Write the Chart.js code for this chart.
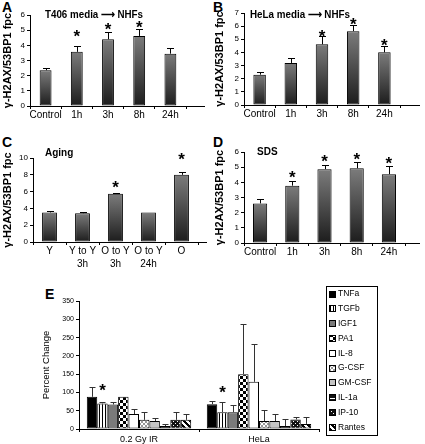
<!DOCTYPE html>
<html>
<head>
<meta charset="utf-8">
<script src="https://cdn.jsdelivr.net/npm/chart.js@4.4.0/dist/chart.umd.min.js"></script>
<style>
  body { margin: 0; background: #fff; width: 425px; height: 444px; position: relative; overflow: hidden; font-family: "Liberation Sans", Arial, sans-serif; }
  canvas { position: absolute; }
  .panel { position: absolute; font-weight: bold; font-size: 14px; line-height: 14px; }
</style>
</head>
<body>
<div class="panel" style="left:2px;top:0px">A</div>
<div class="panel" style="left:213px;top:0px">B</div>
<div class="panel" style="left:2px;top:135px">C</div>
<div class="panel" style="left:213px;top:135px">D</div>
<div class="panel" style="left:45px;top:287px">E</div>

<canvas id="chartA" width="212" height="124" style="left:0;top:0"></canvas>
<canvas id="chartB" width="213" height="124" style="left:212px;top:0"></canvas>
<canvas id="chartC" width="212" height="135" style="left:0;top:140px"></canvas>
<canvas id="chartD" width="213" height="130" style="left:212px;top:140px"></canvas>
<canvas id="chartE" width="425" height="164" style="left:0;top:280px"></canvas>

<script>
const timeLabels = ['Control', '1h', '3h', '8h', '24h'];
const agingLabels = [['Y'], ['Y to Y', '3h'], ['O to Y', '3h'], ['O to Y', '24h'], ['O']];

const t406Values = [2.36, 3.57, 4.4, 4.62, 3.45];
const t406Errors = [2.5, 3.94, 4.88, 5.1, 3.83];
const t406Stars = [null, 4.88, 5.32, 5.43, null];

const helaValues = [2.31, 3.2, 4.62, 5.62, 4.01];
const helaErrors = [2.53, 3.58, 5.23, 6.12, 4.52];
const helaStars = [null, null, 5.56, 6.45, 4.85];

const agingValues = [3.52, 3.43, 5.74, 3.5, 8.0];
const agingErrors = [3.64, 3.54, 5.88, 3.5, 8.33];
const agingStars = [null, null, 7.0, null, 10.3];

const sdsValues = [2.61, 3.78, 4.87, 4.93, 4.54];
const sdsErrors = [2.88, 4.09, 5.11, 5.33, 5.09];
const sdsStars = [null, 4.6, 5.64, 5.77, 5.5];

const yLabel = 'γ-H2AX/53BP1 fpc';

// panel E: one row per cytokine, values for [0.2 Gy IR, HeLa]
const cytoGroups = ['0.2 Gy IR', 'HeLa'];
const cytokines = ['TNFa', 'TGFb', 'IGF1', 'PA1', 'IL-8', 'G-CSF', 'GM-CSF', 'IL-1a', 'IP-10', 'Rantes'];
const cytoValues = [[88, 68], [70, 46], [67, 46], [88, 150], [41, 129], [25, 22], [22, 22], [8, 8], [25, 26], [25, 14]];
const cytoErrors = [[114, 77], [73, 73], [75, 66], [88, 287], [56, 232], [47, 52], [31, 41], [14, 27], [47, 34], [41, 34]];
const cytoStars = [[null, null], [116, 112], [null, null], [null, null], [null, null], [null, null], [null, null], [null, null], [null, null], [null, null]];

const FONT = '"Liberation Sans", Arial, sans-serif';

function barGradient(c) {
  const chart = c.chart;
  const y = chart.scales.y;
  if (!chart.chartArea || !y || c.type !== 'data') return '#444';
  const top = y.getPixelForValue(c.raw);
  const bottom = y.getPixelForValue(0);
  const g = chart.ctx.createLinearGradient(0, top, 0, bottom);
  g.addColorStop(0, '#7c7c7c');
  g.addColorStop(1, '#1c1c1c');
  return g;
}

function makePattern(w, h, draw) {
  const c = document.createElement('canvas');
  c.width = w; c.height = h;
  const p = c.getContext('2d');
  draw(p);
  return p.createPattern(c, 'repeat');
}

const fills = [
  '#000',
  makePattern(3, 1, p => { p.fillStyle = '#fff'; p.fillRect(0, 0, 3, 1); p.fillStyle = '#000'; p.fillRect(0, 0, 1, 1); }),
  '#7a7a7a',
  makePattern(6, 6, p => { p.fillStyle = '#fff'; p.fillRect(0, 0, 6, 6); p.fillStyle = '#000'; p.fillRect(0, 0, 3, 3); p.fillRect(3, 3, 3, 3); }),
  '#fff',
  makePattern(4, 4, p => {
    p.fillStyle = '#fff'; p.fillRect(0, 0, 4, 4); p.fillStyle = '#999';
    for (let i = 0; i < 4; i++) { p.fillRect(i, i, 1, 1); p.fillRect(3 - i, i, 1, 1); }
  }),
  '#c4c4c4',
  makePattern(1, 4, p => { p.fillStyle = '#111'; p.fillRect(0, 0, 1, 4); p.fillStyle = '#fff'; p.fillRect(0, 2, 1, 1); }),
  makePattern(4, 4, p => { p.fillStyle = '#111'; p.fillRect(0, 0, 4, 4); p.fillStyle = '#fff'; p.fillRect(1, 1, 1, 1); p.fillRect(3, 3, 1, 1); }),
  makePattern(6, 6, p => {
    p.fillStyle = '#fff'; p.fillRect(0, 0, 6, 6); p.fillStyle = '#000';
    for (let i = 0; i < 6; i++) { p.fillRect(i, i, 1, 1); p.fillRect((i + 1) % 6, i, 1, 1); p.fillRect((i + 2) % 6, i, 1, 1); }
  })
];

const extras = {
  id: 'extras',
  afterDatasetsDraw(chart, args, opts) {
    const ctx = chart.ctx;
    const y = chart.scales.y;
    const area = chart.chartArea;
    ctx.save();
    chart.data.datasets.forEach((ds, di) => {
      const meta = chart.getDatasetMeta(di);
      meta.data.forEach((bar, i) => {
        const hi = ds.errHi ? ds.errHi[i] : null;
        if (hi != null && hi > ds.data[i]) {
          const yt = Math.round(y.getPixelForValue(hi)) + 0.5;
          const xm = Math.round(bar.x) + 0.5;
          ctx.strokeStyle = opts.errColor || '#000';
          ctx.lineWidth = 1;
          ctx.beginPath();
          ctx.moveTo(xm, bar.y);
          ctx.lineTo(xm, yt);
          ctx.moveTo(xm - opts.cap, yt);
          ctx.lineTo(xm + opts.cap, yt);
          ctx.stroke();
        }
        const st = ds.stars ? ds.stars[i] : null;
        if (st != null) {
          const size = opts.starSize || 17;
          ctx.font = 'bold ' + size + 'px ' + FONT;
          ctx.fillStyle = '#000';
          ctx.textAlign = 'center';
          ctx.textBaseline = 'alphabetic';
          ctx.fillText('*', bar.x, y.getPixelForValue(st) + 0.57 * size);
        }
      });
    });
    if (opts.axisEnd) {
      const yy = Math.round(area.bottom - 0.5) + 0.5;
      ctx.strokeStyle = '#000';
      ctx.lineWidth = 1;
      ctx.beginPath();
      ctx.moveTo(area.right, yy);
      ctx.lineTo(opts.axisEnd, yy);
      ctx.stroke();
    }
    if (opts.title) {
      const t = opts.title;
      ctx.font = 'bold 10px ' + FONT;
      ctx.fillStyle = '#000';
      ctx.textAlign = 'left';
      ctx.textBaseline = 'middle';
      ctx.fillText(t.text, t.x, t.y, t.w);
    }
    if (opts.legend) {
      const L = opts.legend;
      ctx.strokeStyle = '#000';
      ctx.lineWidth = 1;
      ctx.strokeRect(L.x + 0.5, L.y + 0.5, L.w, L.h);
      ctx.font = '8.5px ' + FONT;
      ctx.textAlign = 'left';
      ctx.textBaseline = 'middle';
      chart.data.datasets.forEach((ds, i) => {
        const cy = L.first + i * L.step;
        ctx.fillStyle = ds.backgroundColor;
        ctx.fillRect(L.x + 3, Math.round(cy - 3.5), 7, 7);
        ctx.strokeRect(L.x + 3.5, Math.round(cy - 3.5) + 0.5, 6, 6);
        ctx.fillStyle = '#000';
        ctx.fillText(ds.label, L.x + 12, cy);
      });
    }
    ctx.restore();
  }
};

function axisGrid() {
  return { display: true, drawOnChartArea: false, drawTicks: true, tickLength: 3, color: '#000' };
}

function panel(id, labels, values, errors, stars, cfg) {
  new Chart(document.getElementById(id), {
    type: 'bar',
    data: {
      labels: labels,
      datasets: [{
        data: values,
        errHi: errors,
        stars: stars,
        backgroundColor: barGradient,
        borderColor: '#000',
        borderWidth: 1,
        borderSkipped: false,
        barPercentage: cfg.barPct,
        categoryPercentage: 1
      }]
    },
    options: {
      responsive: false,
      animation: false,
      events: [],
      layout: { padding: { top: cfg.top, right: cfg.right, left: 0, bottom: 0 } },
      plugins: {
        legend: { display: false },
        tooltip: { enabled: false },
        extras: { cap: 3.5, axisEnd: cfg.axisEnd, title: cfg.title }
      },
      scales: {
        x: {
          grid: axisGrid(),
          border: { color: '#000' },
          ticks: { color: '#000', font: { family: FONT, size: 10, lineHeight: 1.3 }, padding: 0, maxRotation: 0, autoSkip: false },
          afterFit: s => { s.height = cfg.xHeight; }
        },
        y: {
          min: 0, max: cfg.max,
          grid: axisGrid(),
          border: { color: '#000' },
          ticks: { stepSize: cfg.step, color: '#000', font: { family: FONT, size: 8 }, padding: 2 },
          title: { display: true, text: yLabel, color: '#000', font: { family: FONT, size: 11, weight: 'bold' }, padding: { top: 1, bottom: 0 } },
          afterFit: s => { s.width = cfg.yWidth; }
        }
      }
    },
    plugins: [extras]
  });
}

panel('chartA', timeLabels, t406Values, t406Errors, t406Stars,
  { max: 6, step: 1, top: 15, right: 26, xHeight: 18, yWidth: 30, barPct: 0.38, axisEnd: 205,
    title: { text: 'T406 media ⟶ NHFs', x: 45, y: 15, w: 98 } });
panel('chartB', timeLabels, helaValues, helaErrors, helaStars,
  { max: 7, step: 1, top: 13, right: 25, xHeight: 19, yWidth: 32, barPct: 0.4, axisEnd: 208,
    title: { text: 'HeLa media ⟶ NHFs', x: 38, y: 15, w: 100 } });
panel('chartC', agingLabels, agingValues, agingErrors, agingStars,
  { max: 10, step: 2, top: 18, right: 14, xHeight: 33, yWidth: 33, barPct: 0.45, axisEnd: 207,
    title: { text: 'Aging', x: 45, y: 13, w: 30 } });
panel('chartD', timeLabels, sdsValues, sdsErrors, sdsStars,
  { max: 6, step: 1, top: 12, right: 20, xHeight: 27, yWidth: 32, barPct: 0.44, axisEnd: 208,
    title: { text: 'SDS', x: 45, y: 12, w: 24 } });

new Chart(document.getElementById('chartE'), {
  type: 'bar',
  data: {
    labels: cytoGroups,
    datasets: cytokines.map((name, i) => ({
      label: name,
      data: cytoValues[i],
      errHi: cytoErrors[i],
      stars: cytoStars[i],
      backgroundColor: fills[i],
      borderColor: '#000',
      borderWidth: 1,
      borderSkipped: false,
      barPercentage: 1,
      categoryPercentage: 0.87
    }))
  },
  options: {
    responsive: false,
    animation: false,
    events: [],
    layout: { padding: { top: 21, right: 106, left: 0, bottom: 0 } },
    plugins: {
      legend: { display: false },
      tooltip: { enabled: false },
      extras: { cap: 3, errColor: '#333', starSize: 17,
        legend: { x: 326, y: 6, w: 51, h: 149, first: 14, step: 14.8 } }
    },
    scales: {
      x: {
        grid: axisGrid(),
        border: { color: '#000' },
        ticks: { color: '#000', font: { family: FONT, size: 9 }, padding: 2, maxRotation: 0 },
        afterFit: s => { s.height = 15; }
      },
      y: {
        min: 0, max: 350,
        grid: axisGrid(),
        border: { color: '#000' },
        ticks: { stepSize: 50, color: '#000', font: { family: FONT, size: 7 }, padding: 2 },
        title: { display: true, text: 'Percent Change', color: '#000', font: { family: FONT, size: 9.5 }, padding: { top: 41, bottom: 0 } },
        afterFit: s => { s.width = 79; }
      }
    }
  },
  plugins: [extras]
});
</script>
</body>
</html>
